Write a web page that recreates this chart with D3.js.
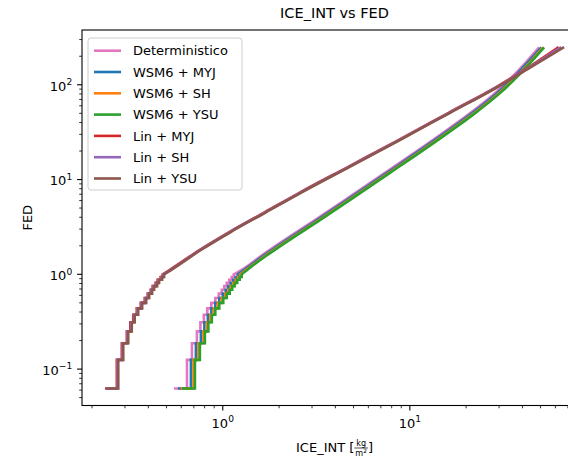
<!DOCTYPE html>
<html>
<head>
<meta charset="utf-8">
<script src="https://cdn.jsdelivr.net/npm/d3@7"></script>
<style>
  body { margin: 0; background: #fff; }
  svg { display: block; font-family: "DejaVu Sans", sans-serif; }
</style>
</head>
<body>
<svg id="chart" width="568" height="465"></svg>
<script>
// series (legend order = draw order)
const seriesNames = ["Deterministico", "WSM6 + MYJ", "WSM6 + SH", "WSM6 + YSU", "Lin + MYJ", "Lin + SH", "Lin + YSU"];
const seriesColors = ["#e377c2", "#1f77b4", "#ff7f0e", "#2ca02c", "#d62728", "#9467bd", "#8c564b"];

// discrete FED levels of the low-end staircase
const fedSteps = [0.0625, 0.125, 0.1875, 0.25, 0.3125, 0.375, 0.4375, 0.5, 0.5625, 0.625, 0.6875, 0.75, 0.8125, 0.875, 0.9375, 1.0];
// FED values of the smooth upper part
const fedTailWsm = [1.186, 1.549, 2.340, 3.758, 6.109, 11.77, 30.37, 49.61, 80.63, 127.9, 189.2, 248];
const fedTailLin = [1.11, 1.805, 2.795, 4.487, 7.208, 13.72, 26.12, 50.33, 96.98, 150.2, 250];

// ICE_INT where each series reaches the FED levels above
const iceStepsDet  = [0.5487, 0.6435, 0.6840, 0.7274, 0.7592, 0.7924, 0.8271, 0.8685, 0.9121, 0.9521, 0.9877, 1.0183, 1.0502, 1.0828, 1.1167, 1.1444];
const iceStepsWMyj = [0.5763, 0.6759, 0.7184, 0.7640, 0.7974, 0.8322, 0.8687, 0.9122, 0.9580, 1.0000, 1.0374, 1.0695, 1.1030, 1.1372, 1.1728, 1.2020];
const iceStepsWSh  = [0.5942, 0.6969, 0.7408, 0.7877, 0.8222, 0.8581, 0.8957, 0.9406, 0.9878, 1.0311, 1.0697, 1.1028, 1.1373, 1.1726, 1.2093, 1.2393];
const iceStepsWYsu = [0.6052, 0.7098, 0.7545, 0.8023, 0.8374, 0.8740, 0.9123, 0.9580, 1.0061, 1.0502, 1.0895, 1.1232, 1.1584, 1.1943, 1.2317, 1.2623];
const iceStepsLMyj = [0.2345, 0.2713, 0.2885, 0.3068, 0.3203, 0.3322, 0.3467, 0.3641, 0.3825, 0.3968, 0.4117, 0.4218, 0.4376, 0.4485, 0.4652, 0.4769];
const iceStepsLSh  = [0.2365, 0.2735, 0.2909, 0.3093, 0.3229, 0.3349, 0.3496, 0.3671, 0.3856, 0.4001, 0.4150, 0.4252, 0.4411, 0.4521, 0.4690, 0.4807];
const iceStepsLYsu = [0.2385, 0.2763, 0.2938, 0.3124, 0.3262, 0.3383, 0.3531, 0.3708, 0.3895, 0.4041, 0.4192, 0.4295, 0.4456, 0.4567, 0.4737, 0.4856];

const iceTailDet  = [1.325, 1.592, 2.164, 3.124, 4.512, 7.363, 14.80, 20.85, 28.32, 36.18, 43.49, 49.1];
const iceTailWMyj = [1.358, 1.632, 2.218, 3.201, 4.624, 7.545, 15.16, 21.37, 29.02, 37.08, 44.57, 50.4];
const iceTailWSh  = [1.392, 1.672, 2.273, 3.280, 4.738, 7.733, 15.54, 21.90, 29.74, 38.00, 45.68, 51.6];
const iceTailWYsu = [1.409, 1.693, 2.301, 3.321, 4.797, 7.828, 15.73, 22.17, 30.11, 38.47, 46.24, 52.25];
const iceTailLMyj = [0.519, 0.750, 1.083, 1.663, 2.553, 4.711, 8.686, 16.03, 29.57, 42.5, 62.5];
const iceTailLSh  = [0.524, 0.756, 1.092, 1.676, 2.574, 4.749, 8.757, 16.16, 29.81, 43.0, 64.5];
const iceTailLYsu = [0.529, 0.7636, 1.103, 1.693, 2.600, 4.797, 8.845, 16.32, 30.11, 43.47, 66.75];

const iceSteps = [iceStepsDet, iceStepsWMyj, iceStepsWSh, iceStepsWYsu, iceStepsLMyj, iceStepsLSh, iceStepsLYsu];
const iceTails = [iceTailDet, iceTailWMyj, iceTailWSh, iceTailWYsu, iceTailLMyj, iceTailLSh, iceTailLYsu];
const fedTails = [fedTailWsm, fedTailWsm, fedTailWsm, fedTailWsm, fedTailLin, fedTailLin, fedTailLin];

const series = seriesNames.map((name, i) => ({
    name,
    color: seriesColors[i],
    steps: iceSteps[i].map((v, j) => [v, fedSteps[j]]),
    tail: iceTails[i].map((v, j) => [v, fedTails[i][j]])
}));

const svg = d3.select("#chart");
const plot = { left: 82, right: 587, top: 30, bottom: 405.5 };
const fs = 13;
const lw = 2.6;

// log domains padded by 5% like matplotlib
function padLog(values) {
    const [lo, hi] = d3.extent(values.map(Math.log10));
    const p = (hi - lo) * 0.05;
    return [10 ** (lo - p), 10 ** (hi + p)];
}
const allPts = series.flatMap(s => s.steps.concat(s.tail));
const x = d3.scaleLog().domain(padLog(allPts.map(d => d[0]))).range([plot.left, plot.right]);
const y = d3.scaleLog().domain(padLog(allPts.map(d => d[1]))).range([plot.bottom, plot.top]);

svg.append("rect").attr("width", 568).attr("height", 465).attr("fill", "#fff");

svg.append("clipPath").attr("id", "clip")
  .append("rect")
    .attr("x", plot.left).attr("y", plot.top)
    .attr("width", plot.right - plot.left).attr("height", plot.bottom - plot.top);

// lines
const stepLine = d3.line().x(d => x(d[0])).y(d => y(d[1])).curve(d3.curveStepAfter);
const tailLine = d3.line().x(d => x(d[0])).y(d => y(d[1])).curve(d3.curveMonotoneX);

svg.append("g").attr("clip-path", "url(#clip)")
  .selectAll("path")
  .data(series)
  .join("path")
    .attr("fill", "none")
    .attr("stroke", d => d.color)
    .attr("stroke-width", lw)
    .attr("stroke-linejoin", "miter")
    .attr("d", d => {
        const last = d.steps[d.steps.length - 1];
        return stepLine(d.steps) + tailLine([last].concat(d.tail)).replace(/^M/, "L");
    });

// ticks
function minorTicks(scale) {
    const [a, b] = scale.domain();
    const out = [];
    for (let e = -3; e <= 4; e++) {
        for (let k = 2; k <= 9; k++) {
            const v = k * 10 ** e;
            if (v >= a && v <= b) out.push(v);
        }
    }
    return out;
}
function majorTicks(scale) {
    const [a, b] = scale.domain();
    const out = [];
    for (let e = -3; e <= 4; e++) if (10 ** e >= a && 10 ** e <= b) out.push(e);
    return out;
}

const axisG = svg.append("g").attr("stroke", "#000");
minorTicks(x).forEach(v => {
    axisG.append("line").attr("x1", x(v)).attr("x2", x(v))
        .attr("y1", plot.bottom).attr("y2", plot.bottom + 2.8).attr("stroke-width", 0.8);
});
minorTicks(y).forEach(v => {
    axisG.append("line").attr("y1", y(v)).attr("y2", y(v))
        .attr("x1", plot.left).attr("x2", plot.left - 2.8).attr("stroke-width", 0.8);
});
majorTicks(x).forEach(e => {
    axisG.append("line").attr("x1", x(10 ** e)).attr("x2", x(10 ** e))
        .attr("y1", plot.bottom).attr("y2", plot.bottom + 4.9).attr("stroke-width", 1.1);
});
majorTicks(y).forEach(e => {
    axisG.append("line").attr("y1", y(10 ** e)).attr("y2", y(10 ** e))
        .attr("x1", plot.left).attr("x2", plot.left - 4.9).attr("stroke-width", 1.1);
});

function powerLabel(g, e, px, py, anchor) {
    const t = g.append("text")
        .attr("x", px).attr("y", py)
        .attr("text-anchor", anchor)
        .attr("font-size", fs)
        .attr("fill", "#000");
    t.append("tspan").text("10");
    t.append("tspan").attr("dy", -fs * 0.42).attr("font-size", fs * 0.7)
        .text(e < 0 ? "\u2212" + Math.abs(e) : String(e));
}
const labelG = svg.append("g");
majorTicks(x).forEach(e => powerLabel(labelG, e, x(10 ** e), plot.bottom + 4.9 + 4.9 + fs * 0.95, "middle"));
majorTicks(y).forEach(e => powerLabel(labelG, e, plot.left - 9.8, y(10 ** e) + fs * 0.45, "end"));

// spines (right one falls outside the window)
svg.append("rect")
    .attr("x", plot.left).attr("y", plot.top)
    .attr("width", plot.right - plot.left).attr("height", plot.bottom - plot.top)
    .attr("fill", "none").attr("stroke", "#000").attr("stroke-width", 1.1);

// title
svg.append("text")
    .attr("x", (plot.left + plot.right) / 2).attr("y", 18)
    .attr("text-anchor", "middle").attr("font-size", 14.5)
    .text("ICE_INT vs FED");

// y label
svg.append("text")
    .attr("transform", `translate(32,${(plot.top + plot.bottom) / 2}) rotate(-90)`)
    .attr("text-anchor", "middle").attr("font-size", fs)
    .text("FED");

// x label: ICE_INT [kg / m^2]
const xl = svg.append("g");
const xlBase = 452;
const t1 = xl.append("text").attr("font-size", fs).attr("y", xlBase).text("ICE_INT [");
const fracNum = xl.append("text").attr("font-size", fs * 0.62).attr("text-anchor", "middle").attr("y", xlBase - 6).text("kg");
const fracDen = xl.append("text").attr("font-size", fs * 0.62).attr("text-anchor", "middle").attr("y", xlBase + 3.5);
fracDen.append("tspan").text("m");
fracDen.append("tspan").attr("dy", -3).attr("font-size", fs * 0.45).text("2");
const t2 = xl.append("text").attr("font-size", fs).attr("y", xlBase).text("]");
const w1 = t1.node().getComputedTextLength();
const wf = Math.max(fracNum.node().getComputedTextLength(), fracDen.node().getComputedTextLength()) + 2;
const w2 = t2.node().getComputedTextLength();
const x0 = (plot.left + plot.right) / 2 - (w1 + wf + w2) / 2;
t1.attr("x", x0);
fracNum.attr("x", x0 + w1 + wf / 2);
fracDen.attr("x", x0 + w1 + wf / 2);
xl.append("line").attr("x1", x0 + w1).attr("x2", x0 + w1 + wf)
    .attr("y1", xlBase - 4).attr("y2", xlBase - 4).attr("stroke", "#000").attr("stroke-width", 0.7);
t2.attr("x", x0 + w1 + wf);

// legend
const lg = svg.append("g");
const rowH = 21.3, lgTop = 38, lgLeft = 88;
lg.append("rect")
    .attr("x", lgLeft).attr("y", lgTop).attr("width", 154).attr("height", 152)
    .attr("rx", 3).attr("fill", "#fff").attr("fill-opacity", 0.8)
    .attr("stroke", "#cccccc").attr("stroke-width", 1);
series.forEach((s, i) => {
    const cy = lgTop + 12.7 + i * rowH;
    lg.append("line").attr("x1", lgLeft + 6).attr("x2", lgLeft + 33)
        .attr("y1", cy).attr("y2", cy)
        .attr("stroke", s.color).attr("stroke-width", lw);
    lg.append("text").attr("x", lgLeft + 45).attr("y", cy + fs * 0.36)
        .attr("font-size", fs).text(s.name);
});
</script>
</body>
</html>
